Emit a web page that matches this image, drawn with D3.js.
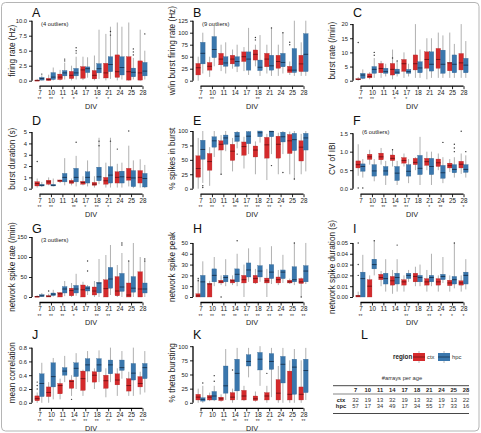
<!DOCTYPE html>
<html>
<head>
<meta charset="utf-8">
<script src="https://cdn.jsdelivr.net/npm/d3@7"></script>
<style>
body{margin:0;background:#fff}
svg{display:block;font-family:"Liberation Sans",Arial,sans-serif}
</style>
</head>
<body>
<div id="fig"></div>
<script>
// DIV ages
const divs = ["7","10","11","14","17","18","21","24","25","28"];

// box summaries per DIV: [low whisker, q1, median, q3, high whisker]
const frCtx  = [[0,0.02,0.05,0.1,0.3],[0,0.02,0.2,0.4,1.0],[0.05,0.2,0.6,1.1,1.8],[0.05,0.35,0.9,1.55,2.5],[0.1,0.4,1.8,2.35,4.0],[0.05,0.3,0.9,1.7,4.2],[0.05,0.45,1.3,2.9,7.8],[0.05,0.55,1.5,4.3,9.7],[0,0.1,1.5,4.0,9.7],[0,0.1,1.3,3.3,8.5]];
const frHpc  = [[0.02,0.1,0.35,0.55,0.9],[0.05,0.2,0.6,1.35,2.2],[0.2,0.8,1.3,1.7,3.0],[0.2,0.8,1.3,2.05,4.0],[0.5,1.35,2.0,2.3,3.9],[0.3,1.3,2.0,2.85,8.5],[0.3,1.5,2.7,4.0,9.0],[0.2,0.95,2.2,4.0,9.0],[0.2,0.65,1.4,2.1,3.8],[0.2,0.8,1.6,3.05,5.0]];
const wbCtx  = [[0,12,27,36,50],[8,22,30,38,50],[20,33,45,57,75],[25,35,45,53,65],[20,40,50,60,70],[30,43,55,64,75],[15,29,45,57,75],[10,26,40,53,75],[12,17,22,30,40],[10,19,35,53,80]];
const wbHpc  = [[15,35,57,80,100],[30,48,65,92,120],[15,30,37,50,80],[18,30,40,50,75],[12,22,45,60,110],[10,21,28,43,95],[10,22,31,53,110],[15,29,38,57,100],[10,17,22,67,125],[10,19,55,98,125]];
const brCtx  = [[0,0.3,0.5,0.7,1.3],[0.5,1.0,1.5,2.4,3],[1,2.8,4.3,6.1,7],[0.5,2,4,6.1,11],[1,3.3,6,7.5,10],[1,3.8,6,9.1,20],[0.5,4.4,7.5,10.2,15],[1,4.4,7.5,11.4,17],[1,3.5,6.3,6.4,17],[1,3.8,6.3,9.6,20]];
const brHpc  = [[0.5,0.8,2.0,2.6,4],[1,2.6,4,5,8],[1.5,2.6,3.2,4.4,6],[1.5,2.4,3,4.1,7],[1.5,2.6,3.2,4,6],[1,2.8,4.5,6.7,11],[1,3.4,5.8,10.2,15],[1,2.6,5.8,10.8,16],[1,2.8,5.8,9.1,13],[1,2.8,5.5,7.9,14]];
const bdCtx  = [[0.1,0.24,0.45,0.62,0.9],[0.3,0.4,0.6,0.75,1.0],[0.5,0.62,0.7,0.77,0.8],[0.3,0.47,0.6,0.74,0.9],[0.3,0.4,0.55,0.65,1.1],[0.1,0.3,0.4,0.56,1.1],[0.1,0.4,0.7,1.0,2.3],[0.1,0.5,1.0,1.5,2.2],[0.2,0.75,1.0,1.8,3.8],[0.1,0.5,1.0,1.6,2.6]];
const bdHpc  = [[0.15,0.24,0.3,0.38,0.6],[0.2,0.24,0.3,0.38,0.9],[0.3,0.6,1.0,1.35,2.7],[0.2,0.6,1.0,1.8,2.9],[0.2,0.5,1.0,1.5,2.5],[0.4,0.7,1.05,1.9,4.5],[0.1,0.5,1.2,1.95,4.5],[0.1,0.5,1.05,1.55,2.3],[0.05,0.18,0.95,1.6,2.5],[0.05,0.15,0.9,1.35,2.1]];
const sbCtx  = [[0,20,35,57,88],[5,32,47,61,72],[25,67,77,83,93],[30,49,65,77,88],[35,58,73,81,90],[25,55,67,74,82],[15,53,76,89,95],[25,53,77,91,97],[25,61,83,94,99],[25,48,72,83,95]];
const sbHpc  = [[10,51,68,84,100],[55,72,83,90,100],[65,77,88,93,100],[70,82,91,98,100],[60,78,91,99,100],[80,90,97,100,100],[60,90,99,100,100],[60,81,90,98,100],[15,66,85,96,100],[30,67,88,96,100]];
const cvCtx  = [[0.35,0.56,0.65,0.75,1.2],[0.65,0.79,0.86,0.93,1.05],[0.65,0.78,0.86,0.96,1.1],[0.6,0.76,0.82,0.91,1.05],[0.6,0.69,0.76,0.84,0.95],[0.5,0.65,0.71,0.82,0.85],[0.5,0.63,0.73,0.82,1.0],[0.5,0.6,0.7,0.8,0.95],[0.45,0.56,0.62,0.69,0.8],[0.4,0.56,0.66,0.74,0.95]];
const cvHpc  = [[0.3,0.47,0.6,0.67,0.8],[0.2,0.34,0.48,0.65,0.8],[0.1,0.36,0.48,0.6,0.75],[0.1,0.22,0.42,0.6,0.75],[0.15,0.34,0.47,0.65,0.8],[0.1,0.38,0.55,0.9,1.4],[0.1,0.38,0.6,0.82,1.0],[0.15,0.28,0.43,0.63,0.85],[0.3,0.43,0.52,0.65,0.85],[0.3,0.44,0.52,0.65,0.9]];
const nrCtx  = [[0,0,1,2,4],[0,0,2,3,8],[0,0,8,11,12],[0,3,16,22,35],[0,0,18,30,38],[0,5,15,25,40],[0,0,21,43,105],[0,3,15,51,80],[0,0,5,35,90],[0,0,20,63,100]];
const nrHpc  = [[0,1,3,6,10],[1,3.5,7,10,18],[2,10,20,26,40],[3,10,20,29,58],[5,15,22,26,30],[0,10,35,36,95],[5,22,45,74,130],[0,14,25,59,110],[0,12,22,51,135],[0,10,20,35,90]];
const npCtx  = [[0,0,1,3,18],[0,0,12,12.5,15],[11,13,14,15.5,20],[11,13,15,16,20],[0,13,16,20,30],[12,13,17,20,26],[0,13,15,17.5,26],[11,13,16,18.5,25],[12,13,14,15.5,17],[0,12.5,14,17,18]];
const npHpc  = [[0,0,14,20,33],[10,14,20,26,37],[10,14,18,20,35],[10,14,21,26,40],[14,18.5,25,31.5,45],[14,18.5,24,29,46],[12,17,23,30,47],[13,17,23,25,39],[11,14,16,28,50],[12,14,24,29,50]];
const ndCtx  = [[0,0,0.001,0.0015,0.005],[0,0,0.01,0.016,0.02],[0.01,0.016,0.018,0.021,0.024],[0.003,0.011,0.015,0.019,0.025],[0.005,0.011,0.014,0.016,0.02],[0.01,0.014,0.019,0.022,0.028],[0.005,0.011,0.014,0.017,0.025],[0.005,0.011,0.014,0.017,0.02],[0.005,0.0105,0.013,0.0155,0.02],[0.005,0.011,0.013,0.015,0.02]];
const ndHpc  = [[0,0,0.017,0.023,0.039],[0.02,0.026,0.03,0.035,0.052],[0.005,0.012,0.017,0.022,0.035],[0.005,0.012,0.018,0.022,0.035],[0.014,0.017,0.02,0.022,0.025],[0.01,0.014,0.018,0.02,0.03],[0.01,0.014,0.018,0.02,0.04],[0.013,0.016,0.019,0.021,0.037],[0.008,0.012,0.016,0.019,0.05],[0.007,0.012,0.02,0.023,0.035]];
const mcCtx  = [[0,0.03,0.06,0.1,0.15],[0,0.09,0.15,0.23,0.3],[0.05,0.13,0.25,0.28,0.35],[0.1,0.21,0.31,0.33,0.4],[0.1,0.18,0.35,0.46,0.48],[0.2,0.3,0.4,0.45,0.5],[0.08,0.21,0.32,0.4,0.5],[0.1,0.26,0.33,0.42,0.5],[0.1,0.17,0.25,0.35,0.45],[0.12,0.23,0.28,0.38,0.45]];
const mcHpc  = [[0,0.09,0.28,0.42,0.58],[0.05,0.23,0.38,0.58,0.65],[0.3,0.4,0.46,0.51,0.68],[0.2,0.38,0.5,0.58,0.72],[0.3,0.46,0.55,0.64,0.75],[0.3,0.45,0.55,0.64,0.76],[0.3,0.42,0.55,0.62,0.8],[0.35,0.47,0.51,0.62,0.75],[0.1,0.33,0.43,0.57,0.8],[0.15,0.35,0.51,0.57,0.75]];
const tbCtx  = [[0,5,10,15,25],[3,5,10,13,18],[2,4,7,10,15],[0,5,10,18,25],[3,5,12,22,30],[2,4,7,12,20],[0,5,12,18,30],[0,5,17,41,65],[0,5,15,56,75],[0,5,15,28,75]];
const tbHpc  = [[0,3,6,9,30],[3,5,12,20,30],[5,17,30,65,95],[5,21,52,77,97],[45,65,73,85,97],[30,58,77,89,100],[10,59,73,87,97],[0,35,68,82,97],[0,15,63,77,95],[5,18,57,77,97]];

// significance marks under each DIV
const frStars = ["**","**","*","*","","*","*","","",""];
const wbStars = ["**","**","","","","**","","","",""];
const brStars = ["**","**","","*","*","","","","",""];
const bdStars = ["**","**","","**","*","**","*","","",""];
const sbStars = ["**","**","*","**","**","**","**","*","",""];
const cvStars = ["","**","**","**","**","","*","**","","*"];
const nrStars = ["**","**","**","*","","**","**","","",""];
const npStars = ["**","**","**","**","**","**","**","**","**","**"];
const ndStars = ["**","","","","**","","**","*","*","*"];
const mcStars = ["**","**","**","**","**","**","**","**","**","**"];
const tbStars = ["","","**","**","**","**","**","**","*","**"];

// outliers: [div index, region (0 ctx, 1 hpc), value]
const frOut = [[2,1,3.3],[2,1,3.6],[3,1,4.6],[3,1,5.0],[3,1,5.5],[6,1,8.2],[6,1,7.6],[8,1,4.3],[8,1,4.8],[8,1,5.3],[9,1,7.8],[0,1,1.1]];
const wbOut = [[5,0,85],[5,0,90],[8,0,75],[8,0,80],[7,1,100],[6,1,110]];
const brOut = [[0,0,13.5],[1,1,9],[1,1,10],[3,0,8],[3,1,7]];
const bdOut = [[0,0,2.4],[3,1,4.1],[7,0,3.5],[8,0,5.1],[5,1,3.8],[5,1,4.2],[6,1,4.2]];
const sbOut = [[0,1,5],[0,1,2],[2,0,25],[3,1,60],[6,1,40],[7,1,28],[8,1,17]];
const cvOut = [[0,0,0.02],[0,1,0.02],[7,1,1.25],[8,1,1.0],[8,1,1.1],[8,1,1.2],[9,0,1.55],[9,1,1.0],[3,0,1.05]];
const nrOut = [[1,0,15],[4,1,65],[4,1,90],[7,1,130],[7,1,135],[8,0,90],[9,1,90],[9,1,95]];
const npOut = [[0,0,15],[0,0,17],[3,1,52],[8,1,50],[2,0,0],[9,0,0]];
const ndOut = [[0,0,0.05],[0,0,0.03],[0,0,0.02],[1,1,0.052],[3,1,0.048],[8,1,0.05]];
const mcOut = [[0,0,0.2],[0,0,0.25],[0,0,0.3],[3,0,0.05]];
const tbOut = [[0,1,35],[1,1,38],[1,1,48],[3,0,58],[6,0,52]];

// arrays per age table
const nCtx = [32,19,13,32,19,13,32,19,13,22];
const nHpc = [57,17,34,49,17,34,55,17,33,16];

const RED = "#d42a2c", BLUE = "#3a77ad";
const RED_MED = "#6e1113", BLUE_MED = "#17324f";

const W = 481, H = 433;
const colX = [32, 193, 353];           // y-axis positions
const labX = [12, 172, 332];           // y-title positions
const rowY = [80.7, 188.7, 297, 402.8]; // value 0 of each row

const svg = d3.select("#fig").append("svg").attr("width", W).attr("height", H);

svg.append("rect").attr("x", 1.5).attr("y", 2.5).attr("width", W - 3.5).attr("height", H - 4.5)
  .attr("rx", 4).attr("fill", "none").attr("stroke", "#b5b5b5").attr("stroke-width", 1);

const f1 = d3.format(".1f"), f2 = d3.format(".2f"), f0 = d3.format("d");

const panels = [
  {L:"A", c:0, r:0, lab:"firing rate (Hz)", ctx:frCtx, hpc:frHpc, max:10, ticks:[0,2.5,5,7.5,10], fmt:f1, stars:frStars, out:frOut, note:"(4 outliers)"},
  {L:"B", c:1, r:0, lab:"w/in burst firing rate (Hz)", ctx:wbCtx, hpc:wbHpc, max:125, ticks:[0,25,50,75,100,125], fmt:f0, stars:wbStars, out:wbOut, note:"(9 outliers)"},
  {L:"C", c:2, r:0, lab:"burst rate (/min)", ctx:brCtx, hpc:brHpc, max:21.2, ticks:[0,5,10,15,20], fmt:f0, stars:brStars, out:brOut},
  {L:"D", c:0, r:1, lab:"burst duration (s)", ctx:bdCtx, hpc:bdHpc, max:5.3, ticks:[0,1,2,3,4,5], fmt:f0, stars:bdStars, out:bdOut},
  {L:"E", c:1, r:1, lab:"% spikes in burst", ctx:sbCtx, hpc:sbHpc, max:104, ticks:[0,25,50,75,100], fmt:f0, stars:sbStars, out:sbOut},
  {L:"F", c:2, r:1, lab:"CV of IBI", ctx:cvCtx, hpc:cvHpc, max:1.62, ticks:[0,0.5,1,1.5], fmt:f1, stars:cvStars, out:cvOut, note:"(6 outliers)"},
  {L:"G", c:0, r:2, lab:"network spike rate (/min)", ctx:nrCtx, hpc:nrHpc, max:150, ticks:[0,50,100,150], fmt:f0, stars:nrStars, out:nrOut, note:"(3 outliers)"},
  {L:"H", c:1, r:2, lab:"network spike peak", ctx:npCtx, hpc:npHpc, max:55.5, ticks:[0,10,20,30,40,50], fmt:f0, stars:npStars, out:npOut},
  {L:"I", c:2, r:2, lab:"network spike duration (s)", ctx:ndCtx, hpc:ndHpc, max:0.0555, ticks:[0,0.01,0.02,0.03,0.04,0.05], fmt:f2, stars:ndStars, out:ndOut},
  {L:"J", c:0, r:3, lab:"mean correlation", ctx:mcCtx, hpc:mcHpc, max:0.87, ticks:[0,0.2,0.4,0.6,0.8], fmt:f1, stars:mcStars, out:mcOut},
  {L:"K", c:1, r:3, lab:"% theta bursting", ctx:tbCtx, hpc:tbHpc, max:106, ticks:[0,25,50,75,100], fmt:f0, stars:tbStars, out:tbOut}
];

function drawPanel(p) {
  const ax = colX[p.c], bot = rowY[p.r];
  const y = d3.scaleLinear().domain([0, p.max]).range([bot, bot - 60]);
  const x = d3.scalePoint().domain(divs).range([ax + 7.5, ax + 110.5]);
  const g = svg.append("g");

  // y axis, line only between first and last tick
  const ya = g.append("g").attr("transform", "translate(" + ax + ",0)")
    .call(d3.axisLeft(y).tickValues(p.ticks).tickFormat(p.fmt).tickSize(3).tickPadding(2));
  ya.select(".domain").remove();
  ya.selectAll("text").attr("font-size", 5.8).attr("fill", "#222");
  ya.selectAll("line").attr("stroke", "#222");
  ya.append("line").attr("y1", y(p.ticks[0])).attr("y2", y(p.ticks[p.ticks.length - 1]))
    .attr("stroke", "#000").attr("stroke-width", 1.3);

  // x axis
  const xy = bot + 5.5;
  const xa = g.append("g").attr("transform", "translate(0," + xy + ")")
    .call(d3.axisBottom(x).tickSize(3));
  xa.select(".domain").remove();
  xa.selectAll("text").attr("y", 8.5).attr("dy", 0).attr("font-size", 6.3).attr("fill", "#222");
  xa.selectAll("line").attr("stroke", "#222");
  xa.append("line").attr("x1", x(divs[0])).attr("x2", x(divs[9]))
    .attr("stroke", "#000").attr("stroke-width", 1.3);

  g.selectAll(".star").data(p.stars).enter().append("text")
    .attr("x", (d, i) => x(divs[i])).attr("y", bot + 20.6)
    .attr("text-anchor", "middle").attr("font-size", 5).attr("fill", "#333")
    .text(d => d);

  g.append("text").attr("x", ax + 59).attr("y", bot + 28).attr("text-anchor", "middle")
    .attr("font-size", 7.3).attr("fill", "#222").text("DIV");

  g.append("text").attr("x", ax).attr("y", bot - 64).attr("font-size", 12.5).attr("fill", "#111").text(p.L);

  g.append("text").attr("transform", "translate(" + (labX[p.c] + 3) + "," + (bot - 30) + ") rotate(-90)")
    .attr("text-anchor", "middle").attr("font-size", 8.2).attr("fill", "#222").text(p.lab);

  if (p.note) g.append("text").attr("x", ax + 9).attr("y", bot - 55).attr("font-size", 5.8).attr("fill", "#222").text(p.note);

  const bw = 4.6;
  [[p.ctx, -1, RED, RED_MED], [p.hpc, 1, BLUE, BLUE_MED]].forEach(([data, side, fill, med]) => {
    const bx = d => x(divs[d]) + side * bw / 2;
    const sel = g.append("g").selectAll("g").data(data.map((v, i) => ({v: v, i: i}))).enter().append("g");
    sel.append("line").attr("x1", d => bx(d.i)).attr("x2", d => bx(d.i))
      .attr("y1", d => y(d.v[0])).attr("y2", d => y(d.v[4]))
      .attr("stroke", "#a8a8a8").attr("stroke-width", 0.9);
    sel.append("rect").attr("x", d => bx(d.i) - bw / 2).attr("width", bw)
      .attr("y", d => y(d.v[3])).attr("height", d => Math.max(1, y(d.v[1]) - y(d.v[3])))
      .attr("fill", fill).attr("stroke", d3.color(fill).darker(0.6)).attr("stroke-width", 0.3);
    sel.append("line").attr("x1", d => bx(d.i) - bw / 2).attr("x2", d => bx(d.i) + bw / 2)
      .attr("y1", d => y(d.v[2])).attr("y2", d => y(d.v[2]))
      .attr("stroke", med).attr("stroke-width", 0.9);
  });

  g.selectAll(".out").data(p.out).enter().append("circle")
    .attr("cx", d => x(divs[d[0]]) + (d[1] ? 1 : -1) * bw / 2)
    .attr("cy", d => y(d[2])).attr("r", 0.7).attr("fill", "#333");
}

panels.forEach(drawPanel);

// panel L: legend and table
svg.append("text").attr("x", 361).attr("y", 339).attr("font-size", 12.5).attr("fill", "#111").text("L");
const lg = svg.append("g");
lg.append("text").attr("x", 393).attr("y", 359).attr("font-size", 6.3).attr("font-weight", "bold").attr("fill", "#222").text("region");
[[RED, RED_MED, "ctx", 413], [BLUE, BLUE_MED, "hpc", 438]].forEach(([c, m, t, x0]) => {
  lg.append("line").attr("x1", x0 + 6).attr("x2", x0 + 6).attr("y1", 351).attr("y2", 363).attr("stroke", "#a8a8a8").attr("stroke-width", 0.8);
  lg.append("rect").attr("x", x0).attr("y", 353).attr("width", 12).attr("height", 8).attr("fill", c);
  lg.append("line").attr("x1", x0).attr("x2", x0 + 12).attr("y1", 357).attr("y2", 357).attr("stroke", m).attr("stroke-width", 0.8);
  lg.append("text").attr("x", x0 + 14).attr("y", 359).attr("font-size", 5.8).attr("fill", "#333").text(t);
});

const tb = svg.append("g");
const tx = d3.scalePoint().domain(divs).range([355.5, 466]);
tb.append("text").attr("x", 402).attr("y", 380).attr("text-anchor", "middle").attr("font-size", 5.8).attr("fill", "#333").text("#arrays per age");
[385.7, 394, 413.5].forEach((yy, k) => tb.append("line").attr("x1", 333).attr("x2", 469).attr("y1", yy).attr("y2", yy)
  .attr("stroke", "#333").attr("stroke-width", k === 1 ? 0.6 : 0.9));
tb.selectAll(".hd").data(divs).enter().append("text").attr("x", d => tx(d)).attr("y", 392)
  .attr("text-anchor", "middle").attr("font-size", 5.8).attr("font-weight", "bold").attr("fill", "#222").text(d => d);
[["ctx", nCtx, 401.5], ["hpc", nHpc, 407.5]].forEach(([name, vals, yy]) => {
  tb.append("text").attr("x", 341).attr("y", yy).attr("text-anchor", "middle").attr("font-size", 5.8).attr("font-weight", "bold").attr("fill", "#222").text(name);
  tb.selectAll(".v" + name).data(vals).enter().append("text").attr("x", (d, i) => tx(divs[i])).attr("y", yy)
    .attr("text-anchor", "middle").attr("font-size", 5.8).attr("fill", "#333").text(d => d);
});
</script>
</body>
</html>
